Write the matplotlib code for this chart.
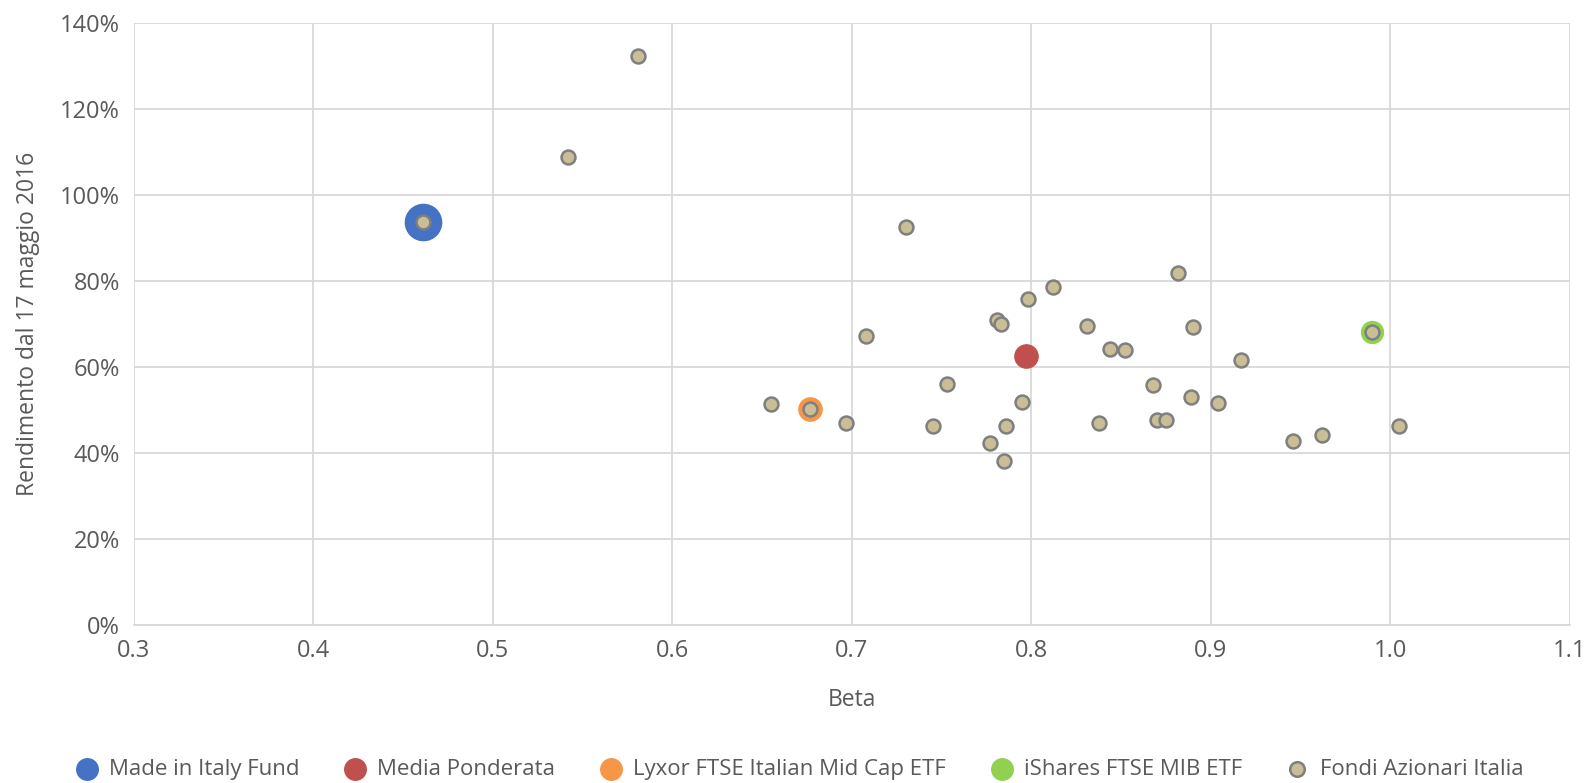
import numpy as np
import matplotlib
matplotlib.use('Agg')
import matplotlib.pyplot as plt
from matplotlib.ticker import PercentFormatter

# ── Data ──────────────────────────────────────────────────────────
made_beta, made_ret = [0.461], [93.8]
media_beta, media_ret = [0.797], [62.5]
lyxor_beta, lyxor_ret = [0.677], [50.2]
ishares_beta, ishares_ret = [0.990], [68.1]

fondi_beta = [0.581, 0.542, 0.461, 0.730, 0.882, 0.812, 0.798, 0.781, 0.783,
              0.831, 0.890, 0.990, 0.708, 0.844, 0.852, 0.917, 0.753, 0.868,
              0.889, 0.655, 0.795, 0.904, 0.677, 0.697, 0.838, 0.870, 0.875,
              0.745, 0.786, 1.005, 0.777, 0.946, 0.962, 0.785]
fondi_ret = [132.5, 108.9, 93.8, 92.6, 82.0, 78.7, 75.9, 70.9, 70.0,
             69.5, 69.3, 68.1, 67.2, 64.3, 63.9, 61.7, 56.1, 55.9,
             53.0, 51.4, 51.9, 51.6, 50.2, 47.1, 47.1, 47.6, 47.8,
             46.4, 46.2, 46.4, 42.4, 42.9, 44.3, 38.2]

plt.rcParams["font.family"] = ["Open Sans", "DejaVu Sans"]
txt = "#595959"
grid_c = "#D9D9D9"

fig = plt.figure(figsize=(15.88, 7.83), dpi=100)
ax = fig.add_axes([0.0842, 0.202, 0.9043, 0.768])

ax.scatter(made_beta, made_ret, s=680, color="#4472C4", zorder=3,
           label="Made in Italy Fund")
ax.scatter(media_beta, media_ret, s=280, color="#C0504D", zorder=3,
           label="Media Ponderata")
ax.scatter(lyxor_beta, lyxor_ret, s=280, color="#F79646", zorder=3,
           label="Lyxor FTSE Italian Mid Cap ETF")
ax.scatter(ishares_beta, ishares_ret, s=250, color="#92D050", zorder=3,
           label="iShares FTSE MIB ETF")
ax.scatter(fondi_beta, fondi_ret, s=100, color="#C9BE96", edgecolors="#7F7F7F",
           linewidths=1.8, zorder=4, label="Fondi Azionari Italia")

ax.set_xlim(0.3, 1.1)
ax.set_ylim(0, 140)
ax.set_xticks(np.arange(0.3, 1.101, 0.1))
ax.set_xticklabels([f"{v:.1f}" for v in np.arange(0.3, 1.101, 0.1)])
ax.set_yticks(np.arange(0, 141, 20))
ax.yaxis.set_major_formatter(PercentFormatter(decimals=0))
ax.grid(True, color=grid_c, lw=1.3)
ax.set_axisbelow(True)
for s in ["top", "right", "left"]:
    ax.spines[s].set_visible(False)
ax.spines["bottom"].set_color(grid_c)
ax.spines["bottom"].set_linewidth(1.3)
ax.tick_params(length=0, labelsize=17, colors=txt, pad=10)

ax.set_xlabel("Beta", fontsize=16.5, color=txt, labelpad=18)
ax.set_ylabel("Rendimento dal 17 maggio 2016", fontsize=16.5, color=txt, labelpad=14)

handles, labels = ax.get_legend_handles_labels()
leg = fig.legend(handles, labels, loc="center", bbox_to_anchor=(0.5, 0.017),
                 ncol=5, frameon=False, fontsize=16, handletextpad=0.0,
                 columnspacing=1.5, scatterpoints=1)
for h in leg.legend_handles:
    h.set_sizes([240])
leg.legend_handles[-1].set_sizes([110])
for t in leg.get_texts():
    t.set_color(txt)

plt.savefig("out.png", dpi=100)
